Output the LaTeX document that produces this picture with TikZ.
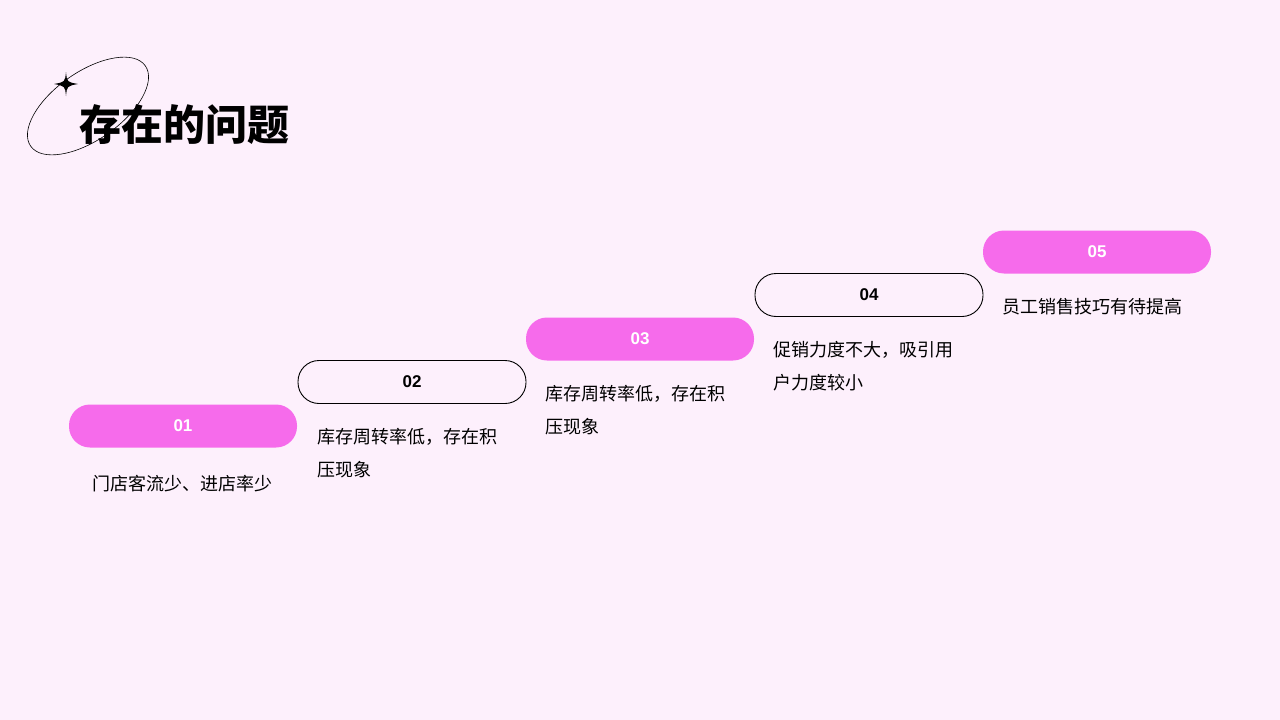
\documentclass[tikz,border=0pt]{standalone}
\usepackage{fontspec}
\setmainfont{Noto Sans CJK SC}
\newfontfamily\numfont{Liberation Sans}
\usetikzlibrary{positioning}
\definecolor{bgpink}{HTML}{FDF0FC}
\definecolor{hotpink}{HTML}{F66BEB}
\tikzset{
  pillfull/.style={rectangle, rounded corners=21pt, minimum width=228pt, minimum height=43pt, fill=hotpink, text=white, font=\numfont\fontsize{17}{17}\selectfont\bfseries},
  pillopen/.style={rectangle, rounded corners=21pt, minimum width=228pt, minimum height=43pt, draw=black, line width=0.9pt, fill=bgpink, text=black, font=\numfont\fontsize{17}{17}\selectfont\bfseries},
  desc/.style={align=left, font=\fontsize{18}{33}\selectfont, text=black, anchor=north west, inner sep=0pt}
}
\begin{document}
\begin{tikzpicture}[x=1pt, y=-1pt]
\fill[bgpink] (0,0) rectangle (1280,720);
\useasboundingbox (0,0) rectangle (1280,720);

%Title
\draw[line width=0.6pt, rotate around={35:(88,106)}] (88,106) ellipse (70pt and 34pt);
\fill (66,72) .. controls (67,82) .. (78,84) .. controls (67,86) .. (66,96) .. controls (65,86) .. (54,84) .. controls (65,82) .. (66,72) -- cycle;
\node (title) [anchor=west, font=\fontsize{42}{42}\selectfont\bfseries] at (76,125) {存在的问题};

%Steps
\node (s1) [pillfull] at (183,426) {01};
\node (s2) [pillopen] at (412,382) {02};
\node (s3) [pillfull] at (640,339) {03};
\node (s4) [pillopen] at (869,295) {04};
\node (s5) [pillfull] at (1097,252) {05};

%Texts
\node (t1) [font=\fontsize{18}{33}\selectfont] at (182,484) {门店客流少、进店率少};
\node (t2) [desc] at (317,428) {库存周转率低，存在积\\压现象};
\node (t3) [desc] at (545,385) {库存周转率低，存在积\\压现象};
\node (t4) [desc] at (773,341) {促销力度不大，吸引用\\户力度较小};
\node (t5) [desc] at (1002,298) {员工销售技巧有待提高};

\end{tikzpicture}
\end{document}
